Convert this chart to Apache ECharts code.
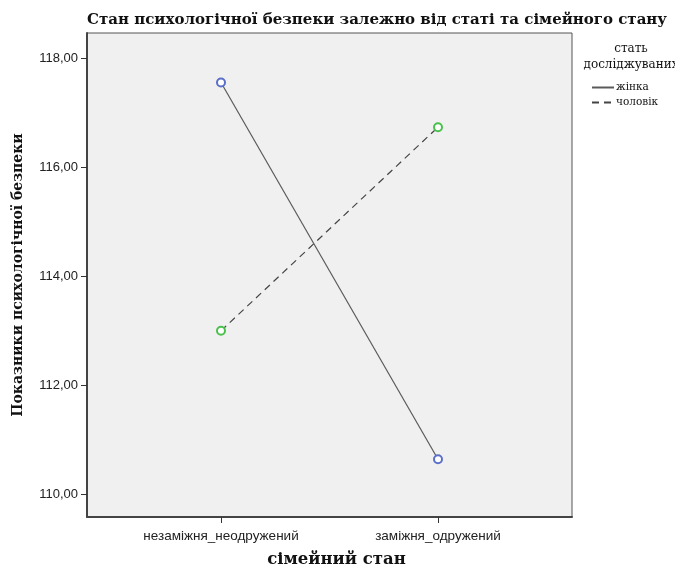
<!DOCTYPE html>
<html>
<head>
<meta charset="utf-8">
<script src="https://cdn.jsdelivr.net/npm/echarts@6/dist/echarts.min.js"></script>
<style>html,body{margin:0;padding:0;background:#fff;width:100%;height:100%;overflow:hidden;}#c{width:100vw;height:100vh;}</style>
</head>
<body>
<div id="c"></div>
<script>
const categories = ['незаміжня_неодружений', 'заміжня_одружений'];
const femaleValues = [117.56, 110.64];
const maleValues = [113.0, 116.74];
const yTicks = [110, 112, 114, 116, 118];
const seriesNames = ['жінка', 'чоловік'];

const chart = echarts.init(document.getElementById('c'));
const serif = '"DejaVu Serif", "Liberation Serif", serif';
const sans = '"Liberation Sans", Arial, sans-serif';
const toPts = arr => arr.map((v, i) => [i, v]);

chart.setOption({
  animation: false,
  backgroundColor: '#ffffff',
  title: [
    { text: 'Стан психологічної безпеки залежно від статі та сімейного стану',
      left: 372, top: 8, textAlign: 'center',
      textStyle: { fontFamily: serif, fontWeight: 'bold', fontSize: 15, color: '#111' } },
    { text: 'стать\nдосліджуваних', left: 626, top: 36, textAlign: 'center',
      textStyle: { fontFamily: serif, fontWeight: 'normal', fontSize: 12, color: '#111', lineHeight: 16 } }
  ],
  legend: {
    orient: 'vertical', left: 586, top: 77, itemWidth: 22, itemHeight: 8, itemGap: 4,
    data: seriesNames,
    itemStyle: { opacity: 0 },
    textStyle: { fontFamily: serif, fontSize: 10.5, color: '#111', padding: [0, 0, 0, -3] }
  },
  grid: { left: 87, right: 103, top: 33, bottom: 51, show: true,
          backgroundColor: '#f0f0f0', borderColor: '#555', borderWidth: 1 },
  xAxis: {
    type: 'value', min: -0.6175, max: 1.6175,
    name: 'сімейний стан', nameLocation: 'middle', nameGap: 34,
    nameTextStyle: { fontFamily: serif, fontWeight: 'bold', fontSize: 16.5, color: '#111', padding: [0, 0, 0, 14] },
    axisLine: { show: true, onZero: false, lineStyle: { color: '#444', width: 2 } },
    axisTick: { show: true, length: 6, customValues: [0, 1], lineStyle: { color: '#333' } },
    axisLabel: { customValues: [0, 1], margin: 12, fontFamily: sans, fontSize: 13.5, color: '#222',
                 formatter: v => categories[Math.round(v)] },
    splitLine: { show: false }
  },
  yAxis: {
    type: 'value', min: 109.58, max: 118.47,
    name: 'Показники психологічної безпеки', nameLocation: 'middle', nameGap: 62,
    nameTextStyle: { fontFamily: serif, fontWeight: 'bold', fontSize: 14, color: '#111' },
    axisLine: { show: true, onZero: false, lineStyle: { color: '#444', width: 2 } },
    axisTick: { show: true, length: 6, customValues: yTicks, lineStyle: { color: '#333' } },
    axisLabel: { customValues: yTicks, margin: 9, fontFamily: sans, fontSize: 13, color: '#222',
                 formatter: v => v.toFixed(2).replace('.', ',') },
    splitLine: { show: false }
  },
  series: [
    { name: seriesNames[0], type: 'line', data: toPts(femaleValues),
      symbol: 'emptyCircle', symbolSize: 8,
      lineStyle: { color: '#5a5a5a', width: 1.2, type: 'solid' },
      itemStyle: { color: '#5b6fc9', borderColor: '#5b6fc9', borderWidth: 1.2 } },
    { name: seriesNames[1], type: 'line', data: toPts(maleValues),
      symbol: 'emptyCircle', symbolSize: 8,
      lineStyle: { color: '#444', width: 1.2, type: [7, 5] },
      itemStyle: { color: '#4cc04c', borderColor: '#4cc04c', borderWidth: 1.2 } }
  ]
});
</script>
</body>
</html>
